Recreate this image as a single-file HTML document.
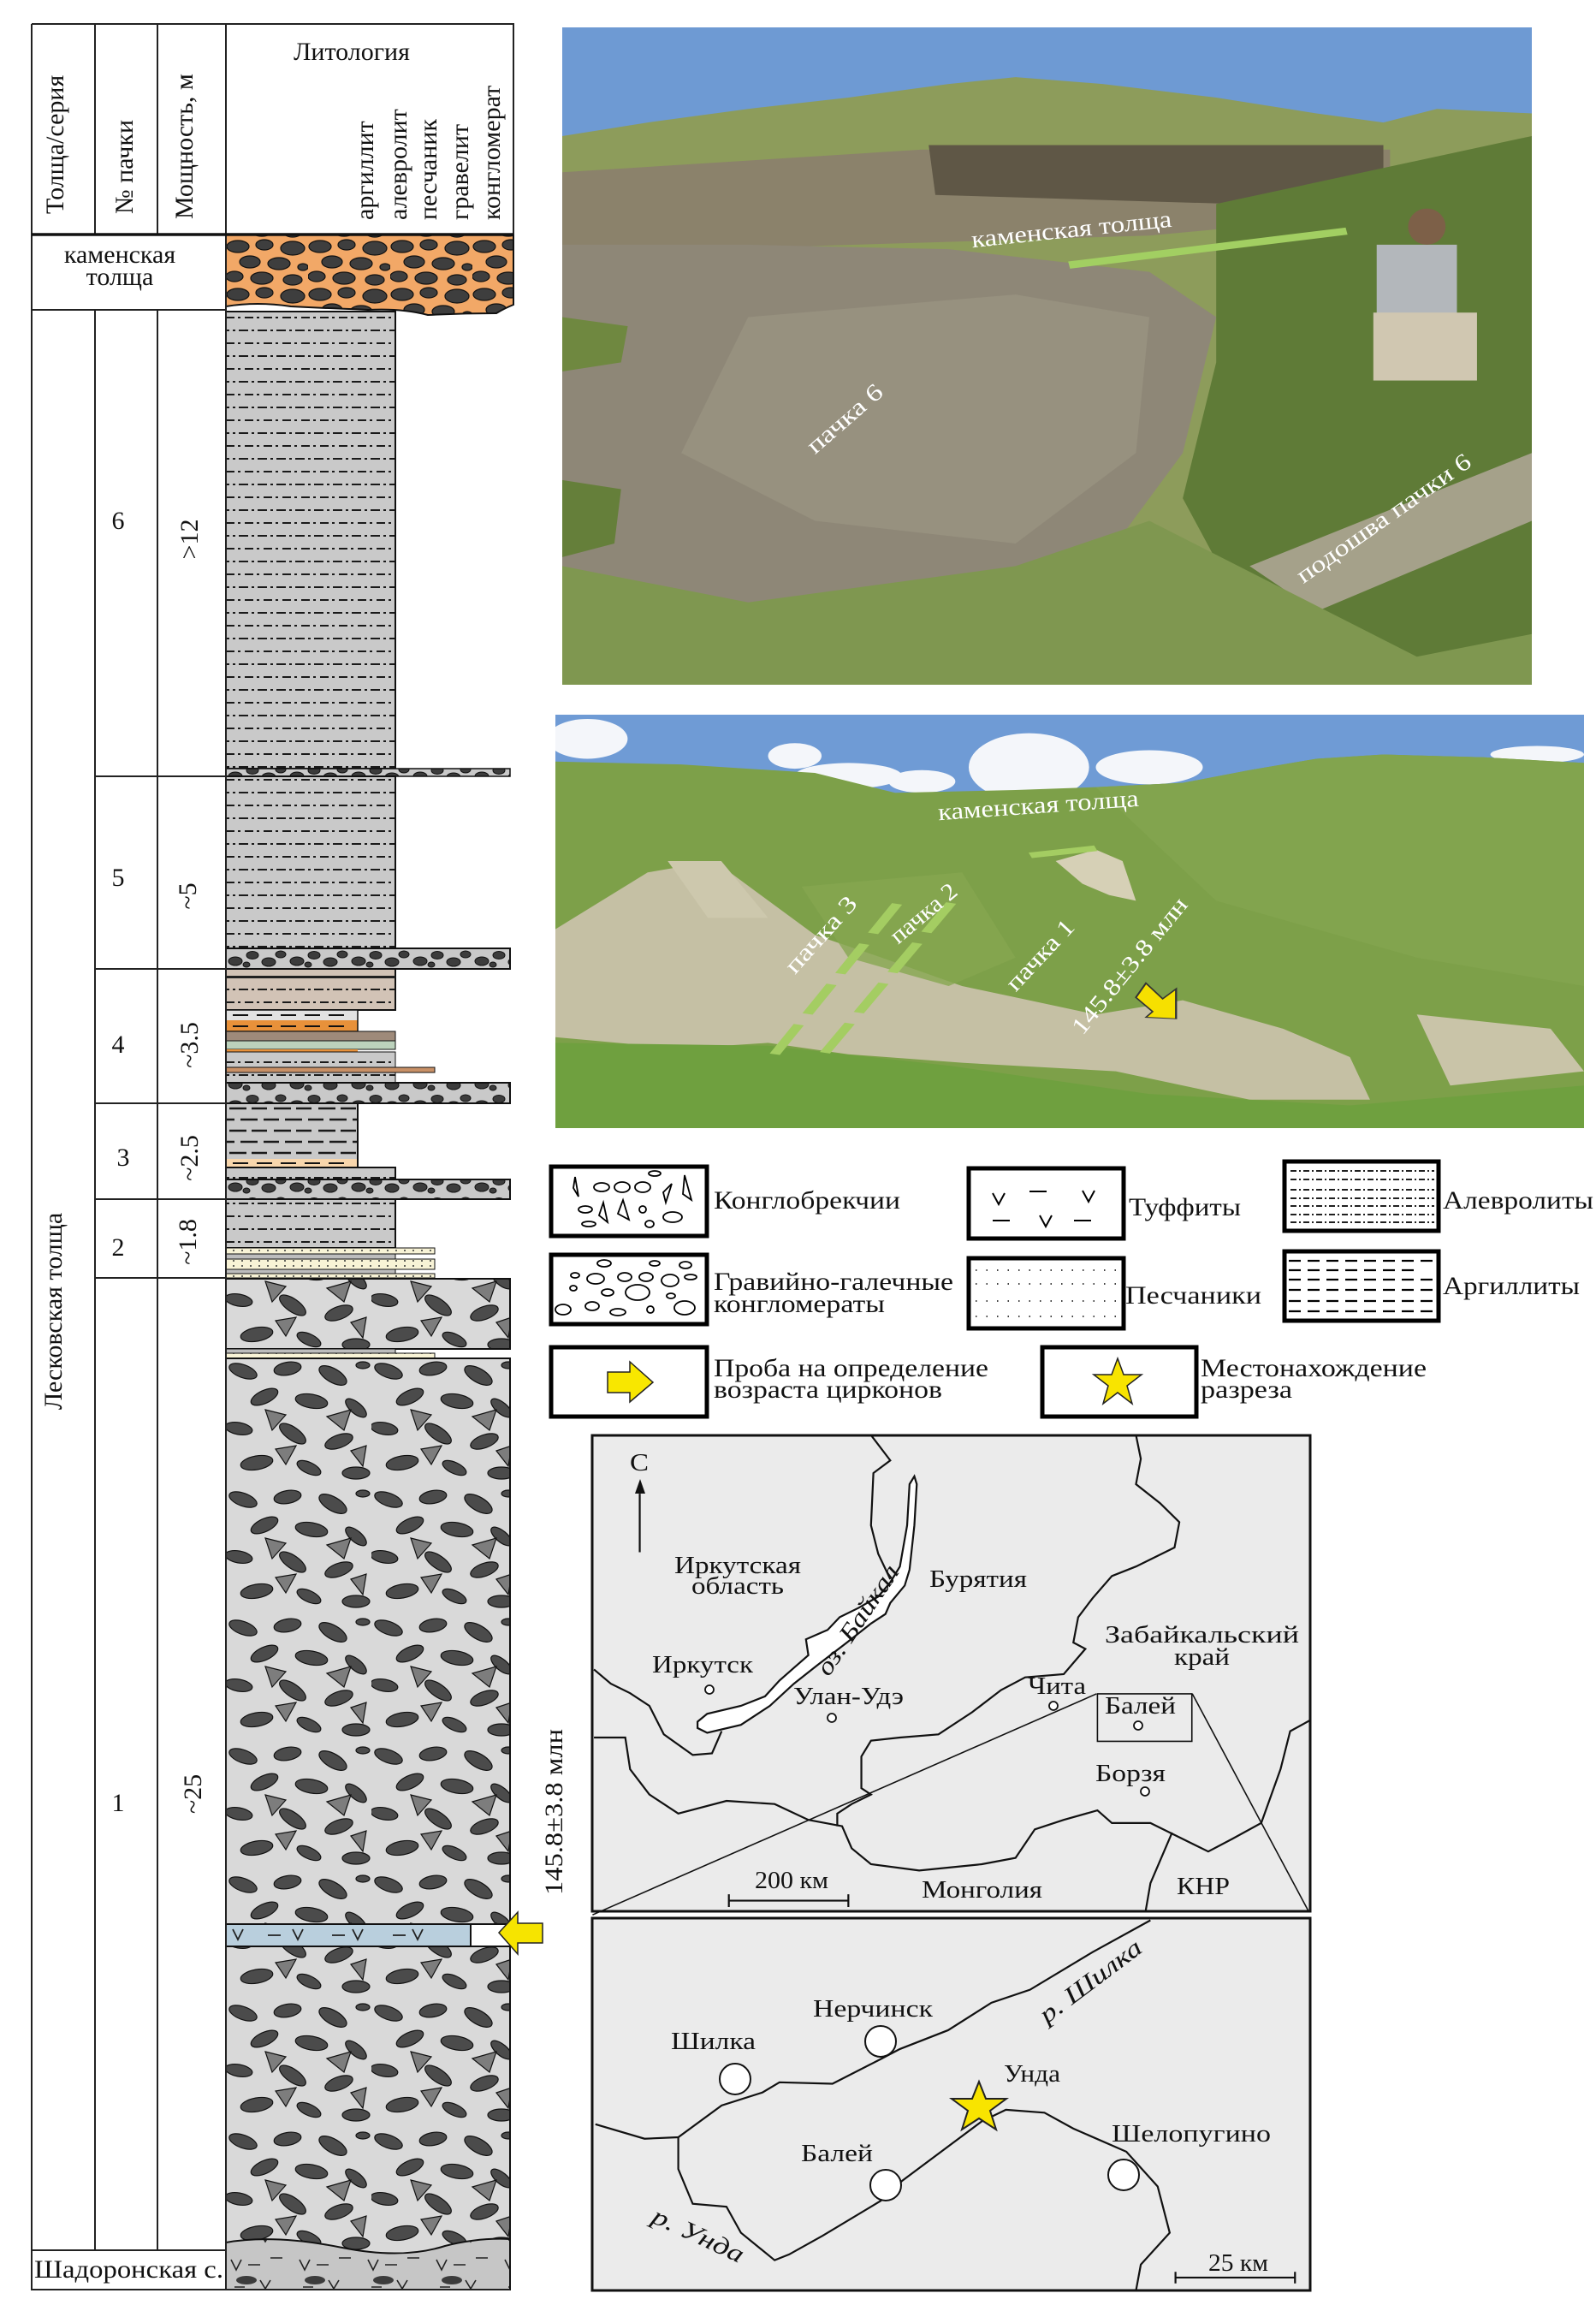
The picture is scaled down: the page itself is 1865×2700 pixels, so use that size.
<!DOCTYPE html>
<html><head><meta charset="utf-8"><style>
html,body{margin:0;padding:0;background:#fff}
svg{display:block}
text{font-family:"Liberation Serif","DejaVu Serif",serif;fill:#111}
</style></head><body>
<svg width="1865" height="2700" viewBox="0 0 1865 2700" xmlns="http://www.w3.org/2000/svg">
<defs>
<pattern id="silt" patternUnits="userSpaceOnUse" width="22" height="30" x="264" y="364">
<rect width="22" height="30" fill="#c9c9c9"/>
<path d="M0 7h10M14 7h3M0 22h4M8 22h3M15 22h7" stroke="#1a1a1a" stroke-width="2"/>
</pattern>
<pattern id="siltB" patternUnits="userSpaceOnUse" width="22" height="30" x="264" y="1132">
<rect width="22" height="30" fill="#d2c3b6"/>
<path d="M0 9h10M14 9h3M0 24h4M8 24h3M15 24h7" stroke="#1a1a1a" stroke-width="2"/>
</pattern>
<pattern id="clay" patternUnits="userSpaceOnUse" width="52" height="26" x="264" y="1289">
<rect width="52" height="26" fill="#c9c9c9"/>
<path d="M4 6h20M30 6h18M0 19h10M17 19h20M44 19h8" stroke="#1a1a1a" stroke-width="2.4"/>
</pattern>
<pattern id="sand" patternUnits="userSpaceOnUse" width="10" height="6">
<rect width="10" height="6" fill="#f8f3d6"/>
<circle cx="3" cy="3" r="1" fill="#333"/>
</pattern>
<pattern id="cg" patternUnits="userSpaceOnUse" width="72" height="24" x="264" y="1108">
<rect width="72" height="24" fill="#c9c9c9"/>
<g fill="#3c3c3c" stroke="#111" stroke-width="1">
<ellipse cx="11" cy="15" rx="8" ry="5"/><ellipse cx="31" cy="8" rx="7" ry="4.5"/><ellipse cx="50" cy="16" rx="8" ry="5"/><ellipse cx="64" cy="7" rx="6" ry="4"/><ellipse cx="24" cy="19" rx="4" ry="3"/>
</g></pattern>
<pattern id="kam" patternUnits="userSpaceOnUse" width="96" height="56" x="264" y="278">
<rect width="96" height="56" fill="#f2a867"/>
<g fill="#3e3e3e" stroke="#111" stroke-width="1.2">
<ellipse cx="14" cy="10" rx="13" ry="7"/><ellipse cx="45" cy="8" rx="10" ry="6"/><ellipse cx="78" cy="12" rx="14" ry="8"/><ellipse cx="28" cy="28" rx="12" ry="7"/><ellipse cx="62" cy="30" rx="13" ry="7"/><ellipse cx="90" cy="34" rx="6" ry="4"/><ellipse cx="10" cy="45" rx="10" ry="6"/><ellipse cx="42" cy="47" rx="13" ry="7"/><ellipse cx="78" cy="49" rx="11" ry="6"/>
</g></pattern>
<pattern id="brec" patternUnits="userSpaceOnUse" width="170" height="150" x="264" y="1587">
<rect width="170" height="150" fill="#d9d9d9"/>
<g fill="#4b4b4b" stroke="#111" stroke-width="1.2">
<ellipse cx="20" cy="15" rx="17" ry="7.5" transform="rotate(20 20 15)"/>
<ellipse cx="72" cy="12" rx="16" ry="7.5" transform="rotate(-10 72 12)"/>
<ellipse cx="125" cy="20" rx="18" ry="8" transform="rotate(30 125 20)"/>
<ellipse cx="45" cy="45" rx="17" ry="7.5" transform="rotate(-25 45 45)"/>
<ellipse cx="100" cy="50" rx="19" ry="8" transform="rotate(10 100 50)"/>
<ellipse cx="152" cy="58" rx="15" ry="6.5" transform="rotate(40 152 58)"/>
<ellipse cx="15" cy="82" rx="16" ry="7" transform="rotate(10 15 82)"/>
<ellipse cx="78" cy="88" rx="18" ry="7.5" transform="rotate(35 78 88)"/>
<ellipse cx="132" cy="97" rx="17" ry="7.5" transform="rotate(-20 132 97)"/>
<ellipse cx="36" cy="122" rx="19" ry="8" transform="rotate(-10 36 122)"/>
<ellipse cx="97" cy="128" rx="15" ry="6.5" transform="rotate(25 97 128)"/>
<ellipse cx="152" cy="134" rx="16" ry="7"/>
<ellipse cx="160" cy="8" rx="8" ry="4"/>
</g>
<g fill="#7d7d7d" stroke="#111" stroke-width="1.2">
<path d="M46 60L70 66L54 84Z"/><path d="M118 68L146 60L138 84Z"/><path d="M58 106L82 102L70 124Z"/><path d="M146 108L164 102L160 126Z"/>
</g></pattern>
<pattern id="shad" patternUnits="userSpaceOnUse" width="80" height="55" x="264" y="2622">
<rect width="80" height="55" fill="#c6c6c6"/>
<g stroke="#222" stroke-width="1.6" fill="none"><path d="M6 18l6 12l6-12M26 24h14M40 42l6 10l6-10M10 50h12M52 16h14"/></g>
<ellipse cx="24" cy="42" rx="12" ry="5" fill="#3c3c3c"/>
</pattern>
</defs>

<!-- ============ STRAT COLUMN ============ -->
<path d="M264 274H600V356Q590 360 580 366Q540 366 500 368Q470 360 430 362Q380 360 340 358Q300 352 264 358Z" fill="url(#kam)" stroke="#111" stroke-width="2"/>
<rect x="264" y="364" width="198" height="534" fill="url(#silt)" stroke="#111" stroke-width="2"/>
<rect x="264" y="898" width="332" height="9" fill="url(#cg)" stroke="#111" stroke-width="1.5"/>
<rect x="264" y="907" width="198" height="201" fill="url(#silt)" stroke="#111" stroke-width="2"/>
<rect x="264" y="1108" width="332" height="24" fill="url(#cg)" stroke="#111" stroke-width="2"/>
<rect x="264" y="1132" width="198" height="48" fill="url(#siltB)" stroke="#111" stroke-width="2"/>
<rect x="264" y="1140" width="198" height="3" fill="#222"/>
<rect x="264" y="1180" width="154" height="12" fill="#e2e2e2"/>
<path d="M272 1186h18M300 1186h18M328 1186h18M356 1186h18M384 1186h18" stroke="#111" stroke-width="2"/>
<rect x="264" y="1192" width="154" height="13" fill="#e8913a"/>
<path d="M272 1199h18M300 1199h18M328 1199h18M356 1199h18M384 1199h18" stroke="#111" stroke-width="2"/>
<rect x="264" y="1180" width="154" height="25" fill="none" stroke="#111" stroke-width="1.5"/>
<rect x="264" y="1205" width="198" height="11" fill="#9e8a7a" stroke="#111" stroke-width="1"/>
<rect x="264" y="1216" width="198" height="10" fill="#bcd2bc" stroke="#111" stroke-width="1"/>
<rect x="264" y="1226" width="154" height="3" fill="#e8913a"/>
<rect x="264" y="1229" width="198" height="18" fill="url(#silt)" stroke="#111" stroke-width="1"/>
<rect x="264" y="1247" width="244" height="6" fill="#c89066" stroke="#111" stroke-width="1"/>
<rect x="264" y="1253" width="198" height="12" fill="url(#silt)" stroke="#111" stroke-width="1"/>
<rect x="264" y="1265" width="332" height="24" fill="url(#cg)" stroke="#111" stroke-width="2"/>
<rect x="264" y="1289" width="154" height="75" fill="url(#clay)" stroke="#111" stroke-width="2"/>
<rect x="265" y="1354" width="152" height="10" fill="#f8d6ac"/>
<path d="M272 1359h18M300 1359h18M328 1359h18M356 1359h18M384 1359h18" stroke="#111" stroke-width="2"/>
<rect x="264" y="1364" width="198" height="14" fill="url(#silt)" stroke="#111" stroke-width="2"/>
<rect x="264" y="1378" width="332" height="23" fill="url(#cg)" stroke="#111" stroke-width="2"/>
<rect x="264" y="1401" width="198" height="57" fill="url(#silt)" stroke="#111" stroke-width="2"/>
<rect x="264" y="1458" width="244" height="7" fill="url(#sand)" stroke="#111" stroke-width="1"/>
<rect x="264" y="1465" width="198" height="6" fill="#bdbdbd" stroke="#111" stroke-width="1"/>
<rect x="264" y="1471" width="244" height="12" fill="url(#sand)" stroke="#111" stroke-width="1"/>
<rect x="264" y="1483" width="198" height="5" fill="#bdbdbd" stroke="#111" stroke-width="1"/>
<rect x="264" y="1488" width="244" height="5" fill="url(#sand)" stroke="#111" stroke-width="1"/>
<rect x="264" y="1494" width="332" height="82" fill="url(#brec)" stroke="#111" stroke-width="2"/>
<rect x="264" y="1576" width="198" height="5" fill="#bdbdbd" stroke="#111" stroke-width="1"/>
<rect x="264" y="1581" width="244" height="6" fill="url(#sand)" stroke="#111" stroke-width="1"/>
<rect x="264" y="1587" width="332" height="661" fill="url(#brec)" stroke="#111" stroke-width="2"/>
<rect x="264" y="2248" width="286" height="26" fill="#b9cfdd" stroke="#111" stroke-width="2"/>
<rect x="550" y="2248" width="46" height="26" fill="#fff" stroke="#111" stroke-width="2"/>
<g stroke="#222" stroke-width="1.8" fill="none">
<path d="M272 2254l6 12l6-12M342 2254l6 12l6-12M412 2254l6 12l6-12M482 2254l6 12l6-12M313 2261h15M388 2261h15M459 2261h15"/>
</g>
<rect x="264" y="2274" width="332" height="360" fill="url(#brec)" stroke="#111" stroke-width="2"/>
<path d="M264 2620Q320 2610 400 2626Q470 2640 520 2624Q560 2614 596 2616V2675H264Z" fill="url(#shad)" stroke="#111" stroke-width="2"/>
<polygon points="583,2258 605,2234 605,2247 634,2247 634,2270 605,2270 605,2283" fill="#f6e400" stroke="#222" stroke-width="1.5"/>

<g stroke="#222" stroke-width="2" fill="none">
<path d="M37 28H600V274M37 28V2675H596M111 28V274M184 28V274M264 28V2675M111 362V2629M184 362V2629M37 362H264M37 2629H264M111 907H264M111 1132H264M111 1289H264M111 1401H264M111 1493H264"/>
</g>
<path d="M37 274H600" stroke="#111" stroke-width="3.5"/>

<text x="411" y="70" font-size="30" text-anchor="middle">Литология</text>
<g font-size="30">
<text transform="translate(74 250) rotate(-90)">Толща/серия</text>
<text transform="translate(155 250) rotate(-90)">№ пачки</text>
<text transform="translate(225 256) rotate(-90)">Мощность, м</text>
<text transform="translate(436 257) rotate(-90)">аргиллит</text>
<text transform="translate(475 257) rotate(-90)">алевролит</text>
<text transform="translate(510 257) rotate(-90)">песчаник</text>
<text transform="translate(547 257) rotate(-90)">гравелит</text>
<text transform="translate(584 257) rotate(-90)">конгломерат</text>
</g>
<g font-size="30" text-anchor="middle">
<text x="140" y="307">каменская</text>
<text x="140" y="333">толща</text>
<text x="138" y="618">6</text>
<text x="138" y="1035">5</text>
<text x="138" y="1230">4</text>
<text x="144" y="1362">3</text>
<text x="138" y="1467">2</text>
<text x="138" y="2116">1</text>
<text transform="translate(231 630) rotate(-90)">&gt;12</text>
<text transform="translate(229 1047) rotate(-90)">~5</text>
<text transform="translate(231 1221) rotate(-90)">~3.5</text>
<text transform="translate(231 1353) rotate(-90)">~2.5</text>
<text transform="translate(229 1451) rotate(-90)">~1.8</text>
<text transform="translate(235 2096) rotate(-90)">~25</text>
<text transform="translate(72 1532) rotate(-90)">Лесковская толща</text>
<text transform="translate(657 2117) rotate(-90)" textLength="194" lengthAdjust="spacingAndGlyphs">145.8±3.8 млн</text>
</g>
<text x="40" y="2661" font-size="30" textLength="221" lengthAdjust="spacingAndGlyphs">Шадоронская с.</text>

<!-- ============ PHOTO 1 ============ -->
<svg x="657" y="32" width="1133" height="768" viewBox="22 60 1450 1452" preserveAspectRatio="none">
<rect x="22" y="60" width="1450" height="1452" fill="#6e9ad3"/>
<path d="M22 300L150 270L300 240L450 215L600 185L700 170L830 185L1000 215L1150 250L1250 270L1330 240L1472 250V1512H22Z" fill="#8d9c5b"/>
<path d="M22 380L560 330L1260 330L1260 470L900 520L22 560Z" fill="#8b826b"/>
<path d="M570 320L1250 320L1250 460L580 430Z" fill="#5f5746"/>
<path d="M22 540L300 540L600 550L900 600L1000 700L950 1000L850 1200L700 1350L450 1450L22 1300Z" fill="#8e8777"/>
<path d="M300 700L700 650L900 700L880 1000L700 1200L400 1150L200 1000Z" fill="#97917f"/>
<path d="M1000 450L1472 300V1512H1100L950 1100L1000 800Z" fill="#5f7b37"/>
<path d="M1050 1250L1472 1000V1150L1150 1350Z" fill="#a5a18a"/>
<path d="M22 1250L300 1330L700 1250L900 1150L1100 1300L1300 1450L1472 1400V1512H22Z" fill="#7f9750"/>
<path d="M22 700L120 720L110 800L22 820Z" fill="#6f8840"/>
<path d="M22 1060L110 1080L100 1200L22 1230Z" fill="#657f3a"/>
<rect x="1240" y="540" width="120" height="160" fill="#b3b7bb"/>
<rect x="1235" y="690" width="155" height="150" fill="#d0c7b1"/>
<ellipse cx="1315" cy="500" rx="28" ry="40" fill="#7d6048"/>
<line x1="780" y1="585" x2="1195" y2="510" stroke="#a2cf62" stroke-width="16"/>
</svg>
<g font-size="28">
<text transform="translate(1253 277) rotate(-6)" text-anchor="middle" textLength="235" lengthAdjust="spacingAndGlyphs" style="fill:#fff">каменская толща</text>
<text transform="translate(993 496) rotate(-41)" text-anchor="middle" textLength="108" lengthAdjust="spacingAndGlyphs" style="fill:#fff">пачка 6</text>
<text transform="translate(1622 613) rotate(-35)" text-anchor="middle" textLength="242" lengthAdjust="spacingAndGlyphs" style="fill:#fff">подошва пачки 6</text>
</g>

<!-- ============ PHOTO 2 ============ -->
<svg x="649" y="835" width="1202" height="483" viewBox="12 45 1538 1455" preserveAspectRatio="none">
<rect x="12" y="45" width="1538" height="1455" fill="#6f9bd5"/>
<g fill="#f4f6fa">
<ellipse cx="60" cy="130" rx="60" ry="70"/><ellipse cx="720" cy="230" rx="90" ry="120"/><ellipse cx="900" cy="230" rx="80" ry="60"/><ellipse cx="450" cy="260" rx="80" ry="45"/><ellipse cx="1480" cy="185" rx="70" ry="30"/><ellipse cx="370" cy="190" rx="40" ry="45"/><ellipse cx="560" cy="280" rx="50" ry="40"/>
</g>
<path d="M12 210L200 220L400 250L520 320L700 310L820 300L950 285L1050 240L1150 200L1250 185L1400 195L1550 215V1500H12Z" fill="#7da049"/>
<path d="M820 300L950 285L1050 240L1150 200L1250 185L1400 195L1550 215V1000L1300 900L1000 700Z" fill="#82a44e"/>
<path d="M12 800L150 600L250 560L400 820L500 900L620 1000L700 1040L820 1100L950 1050L1100 1150L1200 1250L1230 1400L1050 1400L850 1300L620 1270L450 1240L330 1200L200 1220L12 1180Z" fill="#c5c0a4"/>
<path d="M180 560L260 560L330 760L240 760Z" fill="#cdc8ad"/>
<path d="M760 560L820 520L860 560L880 700L840 680L800 640Z" fill="#d6d0b6"/>
<path d="M1300 1100L1500 1150L1550 1300L1350 1350Z" fill="#c9c4a8"/>
<path d="M12 1200L330 1210L600 1280L900 1380L1200 1420L1550 1350V1500H12Z" fill="#6fa03f"/>
<path d="M380 650L620 600L700 900L600 1000L450 900Z" fill="#86a650" opacity=".8"/>
<g stroke="#a4cd62" stroke-width="16" stroke-dasharray="110 40">
<line x1="340" y1="1240" x2="530" y2="690"/><line x1="415" y1="1235" x2="610" y2="690"/>
</g>
<line x1="722" y1="540" x2="820" y2="515" stroke="#a4cd62" stroke-width="20"/>
<polygon points="880,1040 895,990 920,1045 940,1010 940,1115 895,1110 905,1090" fill="#f6e000" stroke="#333" stroke-width="3"/>
</svg>
<g font-size="28">
<text transform="translate(1214 950) rotate(-4)" text-anchor="middle" textLength="235" lengthAdjust="spacingAndGlyphs" style="fill:#fff">каменская толща</text>
<text transform="translate(966 1098) rotate(-48)" text-anchor="middle" textLength="111" lengthAdjust="spacingAndGlyphs" style="fill:#fff">пачка 3</text>
<text transform="translate(1085 1074) rotate(-40)" text-anchor="middle" textLength="93" lengthAdjust="spacingAndGlyphs" style="fill:#fff">пачка 2</text>
<text transform="translate(1222 1122) rotate(-47)" text-anchor="middle" textLength="103" lengthAdjust="spacingAndGlyphs" style="fill:#fff">пачка 1</text>
<text transform="translate(1327 1134) rotate(-51)" text-anchor="middle" textLength="197" lengthAdjust="spacingAndGlyphs" style="fill:#fff">145.8±3.8 млн</text>
</g>

<!-- ============ LEGEND ============ -->
<g fill="#fff" stroke="#000" stroke-width="5">
<rect x="644" y="1363" width="182" height="81"/>
<rect x="1132" y="1365" width="181" height="82"/>
<rect x="1501" y="1357" width="180" height="81"/>
<rect x="644" y="1466" width="182" height="81"/>
<rect x="1132" y="1470" width="181" height="82"/>
<rect x="1501" y="1462" width="180" height="81"/>
<rect x="644" y="1574" width="182" height="81"/>
<rect x="1218" y="1574" width="180" height="81"/>
</g>
<g fill="none" stroke="#000" stroke-width="1.8">
<ellipse cx="703" cy="1387" rx="9" ry="5"/><ellipse cx="727" cy="1387" rx="9" ry="6"/><ellipse cx="751" cy="1387" rx="9" ry="6"/><ellipse cx="765" cy="1371" rx="7" ry="3"/><ellipse cx="684" cy="1413" rx="8" ry="4"/><ellipse cx="751" cy="1413" rx="4" ry="4"/><ellipse cx="786" cy="1422" rx="11" ry="6"/><ellipse cx="688" cy="1430" rx="8" ry="3"/><ellipse cx="759" cy="1430" rx="5" ry="4"/>
<path d="M672 1375L676 1398L670 1388Z M705 1405L710 1428L700 1420Z M728 1402L735 1425L722 1418Z M775 1393L785 1383L778 1405Z M800 1373L808 1402L798 1395Z"/>
<ellipse cx="706" cy="1476" rx="8" ry="4"/><ellipse cx="765" cy="1476" rx="6" ry="3"/><ellipse cx="801" cy="1478" rx="7" ry="4"/><ellipse cx="672" cy="1490" rx="5" ry="3"/><ellipse cx="696" cy="1494" rx="10" ry="6"/><ellipse cx="730" cy="1492" rx="8" ry="5"/><ellipse cx="755" cy="1492" rx="8" ry="5"/><ellipse cx="783" cy="1496" rx="10" ry="7"/><ellipse cx="807" cy="1492" rx="7" ry="3"/><ellipse cx="670" cy="1505" rx="4" ry="3"/><ellipse cx="710" cy="1510" rx="7" ry="4"/><ellipse cx="745" cy="1510" rx="14" ry="9"/><ellipse cx="784" cy="1514" rx="5" ry="3"/><ellipse cx="658" cy="1530" rx="9" ry="6"/><ellipse cx="692" cy="1526" rx="8" ry="5"/><ellipse cx="722" cy="1533" rx="9" ry="4"/><ellipse cx="760" cy="1530" rx="4" ry="4"/><ellipse cx="800" cy="1528" rx="12" ry="8"/>
</g>
<g stroke="#000" stroke-width="2" fill="none">
<path d="M1160 1394l7 13l7-13M1265 1391l7 13l7-13M1215 1420l7 13l7-13M1203 1392h20M1160 1426h20M1255 1426h20"/>
</g>
<g stroke="#000" stroke-width="1.8" stroke-dasharray="7 3 2 3">
<path d="M1508 1368h168M1508 1378h168M1508 1390h168M1508 1400h168M1508 1409h168M1508 1419h168M1508 1428h168"/>
</g>
<g stroke="#000" stroke-width="2.2" stroke-dasharray="14 8">
<path d="M1506 1473h170M1506 1484h150M1506 1495h170M1506 1507h170M1506 1520h170M1506 1532h170"/>
</g>
<g stroke="#000" stroke-width="1.5" stroke-dasharray="1.5 11">
<path d="M1140 1484h168M1140 1500h168M1140 1520h168M1140 1538h168"/>
</g>
<polygon points="710,1603 736,1603 736,1591 763,1615 736,1638 736,1627 710,1627" fill="#f8e700" stroke="#222" stroke-width="1.5"/>
<polygon points="1306,1587 1313,1606 1334,1606 1317,1619 1323,1640 1306,1627 1289,1640 1295,1619 1278,1606 1299,1606" fill="#f8e400" stroke="#222" stroke-width="1.5"/>
<g font-size="30">
<text x="834" y="1412" textLength="218" lengthAdjust="spacingAndGlyphs">Конглобрекчии</text>
<text x="1319" y="1420" textLength="131" lengthAdjust="spacingAndGlyphs">Туффиты</text>
<text x="1686" y="1412" textLength="176" lengthAdjust="spacingAndGlyphs">Алевролиты</text>
<text x="834" y="1507" textLength="280" lengthAdjust="spacingAndGlyphs">Гравийно-галечные</text>
<text x="834" y="1533" textLength="200" lengthAdjust="spacingAndGlyphs">конгломераты</text>
<text x="1315" y="1523" textLength="159" lengthAdjust="spacingAndGlyphs">Песчаники</text>
<text x="1686" y="1512" textLength="160" lengthAdjust="spacingAndGlyphs">Аргиллиты</text>
<text x="834" y="1608" textLength="321" lengthAdjust="spacingAndGlyphs">Проба на определение</text>
<text x="834" y="1633" textLength="267" lengthAdjust="spacingAndGlyphs">возраста цирконов</text>
<text x="1403" y="1608" textLength="264" lengthAdjust="spacingAndGlyphs">Местонахождение</text>
<text x="1403" y="1633" textLength="107" lengthAdjust="spacingAndGlyphs">разреза</text>
</g>

<!-- ============ MAP 1 ============ -->
<rect x="692" y="1677" width="839" height="556" fill="#ebebeb" stroke="#111" stroke-width="3"/>
<g transform="translate(680 1660) scale(0.563 0.37)" fill="none" stroke="#111" stroke-width="2.2">
<path vector-effect="non-scaling-stroke" d="M240 950L260 925L330 900L380 870L410 820L440 780L470 740L465 690L510 660L535 620L575 590L615 555L640 510L660 460L675 330L680 200L690 175L695 200L690 330L680 470L670 520L640 575L630 610L600 640L550 700L490 770L440 830L390 900L330 960L260 985L240 970Z" fill="#fff"/>
<path vector-effect="non-scaling-stroke" d="M600 45L640 125L605 165L600 330L615 420L640 500"/>
<path vector-effect="non-scaling-stroke" d="M290 980L270 1050L230 1055L170 990L140 900L100 860L60 830L25 785"/>
<path vector-effect="non-scaling-stroke" d="M1150 45L1160 120L1150 200L1200 260L1240 320L1230 400L1150 460L1100 490L1060 560L1030 620L1020 700L1045 720L1000 800L920 810L870 850L810 920L740 990L660 1000L600 1010L580 1060L580 1160L600 1180L560 1210L530 1240L530 1280"/>
<path vector-effect="non-scaling-stroke" d="M25 1000L90 1000L100 1100L140 1180L200 1240L300 1200L400 1210L470 1260L540 1280L560 1350L600 1400L700 1420L830 1400L900 1380L940 1290L1000 1260L1070 1230L1100 1270L1180 1270L1220 1300L1300 1360L1350 1320L1410 1270L1450 1100L1470 980L1512 945"/>
<path vector-effect="non-scaling-stroke" d="M1225 1300L1180 1460L1170 1548"/>
<path vector-effect="non-scaling-stroke" d="M1068 862L22 1560" stroke-width="1.6"/>
<path vector-effect="non-scaling-stroke" d="M1267 862L1508 1548" stroke-width="1.6"/>
<rect vector-effect="non-scaling-stroke" x="1070" y="862" width="196" height="150" stroke-width="1.6"/>
<path vector-effect="non-scaling-stroke" d="M305 1515H553M305 1495V1535M553 1495V1535"/>
<path vector-effect="non-scaling-stroke" d="M120 415V230"/>
</g>
<polygon points="742,1745 748,1728 754,1745" fill="#111"/>
<g fill="#fff" stroke="#111" stroke-width="1.8">
<circle cx="829" cy="1974" r="5"/><circle cx="972" cy="2007" r="5"/><circle cx="1231" cy="1993" r="5"/><circle cx="1330" cy="2016" r="5"/><circle cx="1338" cy="2093" r="5"/>
</g>
<g font-size="29">
<text x="736" y="1718" textLength="22" lengthAdjust="spacingAndGlyphs">С</text>
<text x="788" y="1838" textLength="148" lengthAdjust="spacingAndGlyphs">Иркутская</text>
<text x="808" y="1862" textLength="108" lengthAdjust="spacingAndGlyphs">область</text>
<text x="1086" y="1854" textLength="114" lengthAdjust="spacingAndGlyphs">Бурятия</text>
<text x="1291" y="1919" textLength="227" lengthAdjust="spacingAndGlyphs">Забайкальский</text>
<text x="1372" y="1945" textLength="65" lengthAdjust="spacingAndGlyphs">край</text>
<text x="762" y="1954" textLength="118" lengthAdjust="spacingAndGlyphs">Иркутск</text>
<text x="927" y="1991" textLength="129" lengthAdjust="spacingAndGlyphs">Улан-Удэ</text>
<text x="1201" y="1979" textLength="68" lengthAdjust="spacingAndGlyphs">Чита</text>
<text x="1291" y="2002" textLength="83" lengthAdjust="spacingAndGlyphs">Балей</text>
<text x="1280" y="2081" textLength="82" lengthAdjust="spacingAndGlyphs">Борзя</text>
<text x="882" y="2206" textLength="86" lengthAdjust="spacingAndGlyphs">200 км</text>
<text x="1077" y="2217" textLength="141" lengthAdjust="spacingAndGlyphs">Монголия</text>
<text x="1375" y="2213" textLength="62" lengthAdjust="spacingAndGlyphs">КНР</text>
<text transform="translate(1010 1898) rotate(-56)" text-anchor="middle" font-style="italic" textLength="149" lengthAdjust="spacingAndGlyphs">оз. Байкал</text>
</g>

<!-- ============ MAP 2 ============ -->
<rect x="692" y="2241" width="839" height="435" fill="#ebebeb" stroke="#111" stroke-width="3"/>
<g transform="translate(680 2230) scale(0.563 0.338)" fill="none" stroke="#111">
<path vector-effect="non-scaling-stroke" stroke-width="2.2" d="M28 745L130 795L200 790L290 680L375 635L410 600L520 605L620 520L660 485L760 420L850 325L930 280L1060 150L1180 40"/>
<path vector-effect="non-scaling-stroke" stroke-width="2.2" d="M200 790L200 900L230 1020L300 1030L330 1120L400 1215L430 1195L500 1130L620 1010L665 940L830 735L880 695L960 705L1020 760L1130 840L1195 960L1220 1120L1160 1230L1150 1320"/>
<path vector-effect="non-scaling-stroke" stroke-width="2.2" d="M1232 1275H1480M1232 1255V1295M1480 1255V1295"/>
</g>
<g fill="#fff" stroke="#111" stroke-width="2">
<circle cx="1029" cy="2385" r="18"/><circle cx="859" cy="2429" r="18"/><circle cx="1035" cy="2553" r="18"/><circle cx="1313" cy="2541" r="18"/>
</g>
<polygon points="1144,2432 1152,2452 1176,2452 1157,2466 1164,2488 1144,2475 1124,2488 1131,2466 1112,2452 1136,2452" fill="#f8e400" stroke="#222" stroke-width="2"/>
<g font-size="29">
<text x="950" y="2356" textLength="140" lengthAdjust="spacingAndGlyphs">Нерчинск</text>
<text x="784" y="2394" textLength="99" lengthAdjust="spacingAndGlyphs">Шилка</text>
<text x="1173" y="2432" textLength="66" lengthAdjust="spacingAndGlyphs">Унда</text>
<text x="936" y="2525" textLength="84" lengthAdjust="spacingAndGlyphs">Балей</text>
<text x="1299" y="2502" textLength="186" lengthAdjust="spacingAndGlyphs">Шелопугино</text>
<text x="1412" y="2653" textLength="70" lengthAdjust="spacingAndGlyphs">25 км</text>
<text transform="translate(1280 2322) rotate(-37)" text-anchor="middle" font-style="italic" textLength="142" lengthAdjust="spacingAndGlyphs">р. Шилка</text>
<text transform="translate(812 2620) rotate(25)" text-anchor="middle" font-style="italic" textLength="115" lengthAdjust="spacingAndGlyphs">р. Унда</text>
</g>
</svg>
</body></html>
